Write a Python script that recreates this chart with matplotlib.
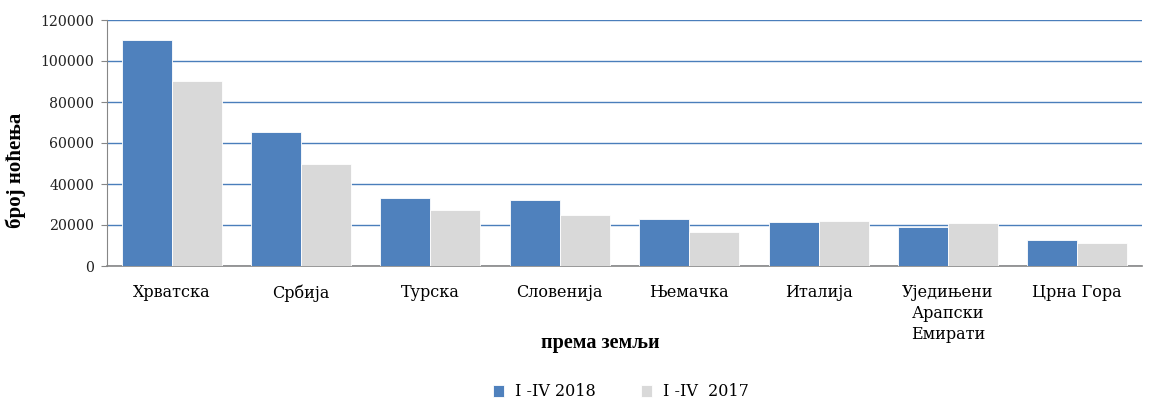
import matplotlib
matplotlib.use('Agg')
import matplotlib.pyplot as plt
import numpy as np

countries = ['Хрватска', 'Србија', 'Турска', 'Словенија', 'Њемачка', 'Италија',
             'Уједињени\nАрапски\nЕмирати', 'Црна Гора']
nights_2018 = [110000, 65300, 33300, 32200, 22900, 21700, 19000, 12800]
nights_2017 = [90300, 49800, 27300, 24900, 16600, 22100, 21100, 11200]
yticks = [0, 20000, 40000, 60000, 80000, 100000, 120000]

plt.rcParams['font.family'] = ['DejaVu Serif']

fig = plt.figure(figsize=(11.58, 4.01), dpi=100)
ax = fig.add_axes([107/1158, 1 - 266/401, (1142-107)/1158, (266-20)/401])

x = np.arange(len(countries))
w = 0.386
ax.bar(x - w/2, nights_2018, w, color='#4f81bd', edgecolor='white', linewidth=0.6,
       label='I -IV 2018', zorder=3)
ax.bar(x + w/2, nights_2017, w, color='#d9d9d9', edgecolor='white', linewidth=0.6,
       label='I -IV  2017', zorder=3)

ax.set_xlim(-0.5, len(countries) - 0.5)
ax.set_ylim(0, 120000)
ax.set_yticks(yticks)
ax.set_yticklabels([str(v) for v in yticks], fontsize=10.2, color='#222222')
ax.set_xticks(x)
ax.set_xticklabels(countries, fontsize=11.5, linespacing=1.3, va='top')
ax.tick_params(axis='x', length=0, pad=13)
ax.tick_params(axis='y', length=4, color='#868686', pad=5)

ax.yaxis.grid(True, color='#4a7ebb', linewidth=1, zorder=0)
for s in ['top', 'right']:
    ax.spines[s].set_visible(False)
ax.spines['left'].set_color('#868686')
ax.spines['bottom'].set_color('#868686')
ax.spines['bottom'].set_linewidth(1.2)

ax.set_ylabel('број ноћења', fontsize=15, fontweight='bold', family='Liberation Serif')
ax.yaxis.set_label_coords(-0.078, 0.39)
fig.text(600/1158, 1 - 343/401, 'према земљи', fontsize=14.5, fontweight='bold',
         family='Liberation Serif', ha='center', va='center')

fig.legend(loc='center', bbox_to_anchor=(621/1158, 1 - 392/401), ncol=2, frameon=False,
           fontsize=11.5, handlelength=0.7, handleheight=0.7, handletextpad=0.7,
           columnspacing=2.8)

fig.savefig('out.png', dpi=100)
